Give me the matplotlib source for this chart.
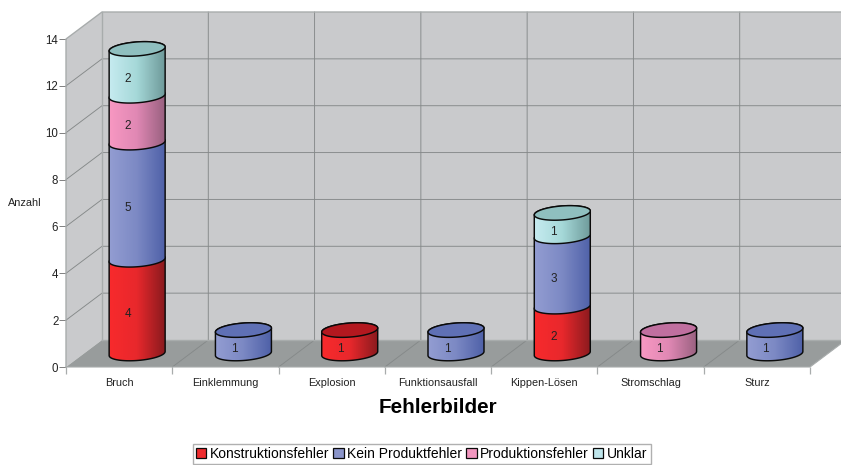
import numpy as np
import matplotlib
matplotlib.use("Agg")
import matplotlib.pyplot as plt
from matplotlib.colors import LinearSegmentedColormap
from matplotlib.patches import Patch, Polygon

plt.rcParams["font.family"] = ["Liberation Sans", "DejaVu Sans"]

categories = ["Bruch", "Einklemmung", "Explosion", "Funktionsausfall",
              "Kippen-Lösen", "Stromschlag", "Sturz"]
series_names = ["Konstruktionsfehler", "Kein Produktfehler", "Produktionsfehler", "Unklar"]
konstruktionsfehler = [4, 0, 1, 0, 2, 0, 0]
kein_produktfehler = [5, 1, 0, 1, 3, 0, 1]
produktionsfehler = [2, 0, 0, 0, 0, 1, 0]
unklar = [2, 0, 0, 0, 1, 0, 0]
y_ticks = [0, 2, 4, 6, 8, 10, 12, 14]

series = [konstruktionsfehler, kein_produktfehler, produktionsfehler, unklar]
legend_cols = ["#ee2b2e", "#8a94c9", "#f296bf", "#bfe6ec"]
grad_cols = [["#f82a2c", "#e8282c", "#8a1a1e"],
             ["#939dd2", "#7c89c4", "#4f61a8"],
             ["#f898c2", "#e088b4", "#996180"],
             ["#c6ebf0", "#a5d8d8", "#6e9a9a"]]
top_cols = ["#b3181f", "#5f70b5", "#c06f9f", "#8fbfbf"]

W, H = 841, 465
L, R, T, B = 66, 810, 39, 367
fig = plt.figure(figsize=(W / 100, H / 100), dpi=100, facecolor="white")
ax = fig.add_axes([L / W, 1 - B / H, (R - L) / W, (B - T) / H])
n = len(categories)
ymax = 14
px_x = (R - L) / n
px_y = (B - T) / ymax
DX, DY = 36 / px_x, 27 / px_y

WALL, FLOOR, GRID, EDGE = "#c9cacc", "#989c9c", "#858989", "#a8acac"

# walls and floor
ax.add_patch(Polygon([(0, 0), (DX, DY), (DX, ymax + DY), (0, ymax)], fc=WALL, ec="none", zorder=1, clip_on=False))
ax.add_patch(Polygon([(DX, DY), (n + DX, DY), (n + DX, ymax + DY), (DX, ymax + DY)], fc=WALL, ec="none", zorder=1, clip_on=False))
ax.add_patch(Polygon([(0, 0), (n, 0), (n + DX, DY), (DX, DY)], fc=FLOOR, ec="none", zorder=1.5, clip_on=False))

# grid
for v in y_ticks[1:-1]:
    ax.plot([0, DX, n + DX], [v, v + DY, v + DY], color=GRID, lw=0.65, zorder=2, clip_on=False)
for i in range(1, n):
    ax.plot([i, i + DX, i + DX], [0, DY, ymax + DY], color=GRID, lw=0.65, zorder=2, clip_on=False)
ax.plot([DX, n + DX], [DY, DY], color=EDGE, lw=1.0, zorder=2, clip_on=False)
ax.plot([DX, DX], [DY, ymax + DY], color=EDGE, lw=1.0, zorder=2, clip_on=False)
ax.plot([0, 0, DX, n + DX], [0, ymax, ymax + DY, ymax + DY], color=EDGE, lw=1.0, zorder=2, clip_on=False)
ax.plot([0, n, n + DX], [0, 0, DY], color=EDGE, lw=0.8, zorder=2, clip_on=False)

# cylinders
a = 28 / px_x
b = 7 / px_y
k = 2 / px_y
tf = np.linspace(np.pi, 2 * np.pi, 60)
tb = np.linspace(0, np.pi, 60)


def ell(cx, cy, t):
    return cx + a * np.cos(t), cy + b * np.sin(t) + k * np.cos(t)


zo = 3.0
for i in range(n):
    cx = i + 0.5 + DX / 2
    base = DY / 2
    cum = 0
    top_idx = max((s for s in range(len(series)) if series[s][i] > 0), default=None)
    for s, vals in enumerate(series):
        v = vals[i]
        if v == 0:
            continue
        y0, y1 = base + cum, base + cum + v
        xf, yf = ell(cx, y0, tf)
        xb, yb = ell(cx, y1, tb)
        pts = np.r_[np.c_[xf, yf], np.c_[xb, yb]]
        body = Polygon(pts, closed=True, fc="none", ec="#0a0a0a", lw=1.05, zorder=zo + 0.2, clip_on=False)
        ax.add_patch(body)
        cmap = LinearSegmentedColormap.from_list("g", grad_cols[s])
        im = ax.imshow(np.linspace(0, 1, 128)[None, :], cmap=cmap, aspect="auto",
                       extent=[cx - a, cx + a, y0 - b - k, y1 + b + k], zorder=zo, interpolation="bilinear")
        clip = Polygon(pts, closed=True, transform=ax.transData)
        im.set_clip_path(clip)
        if s == top_idx:
            xt, yt = ell(cx, y1, np.linspace(0, 2 * np.pi, 120))
            ax.add_patch(Polygon(np.c_[xt, yt], closed=True, fc=top_cols[s], ec="#0a0a0a",
                                 lw=1.05, zorder=zo + 0.3, clip_on=False))
        ax.text(cx - 9 / px_x, (y0 + y1) / 2 - 7 / px_y, str(v), ha="center", va="center",
                fontsize=8.5, color="#222222", zorder=zo + 0.5)
        cum += v
        zo += 1

# axes
ax.set_xlim(0, n)
ax.set_ylim(0, ymax)
for sp in ax.spines.values():
    sp.set_visible(False)
ax.patch.set_visible(False)
ax.set_yticks(y_ticks)
ax.set_yticklabels([str(v) for v in y_ticks], fontsize=8.3, color="#222222")
ax.tick_params(axis="y", length=5, width=0.7, color="#808080", pad=0.5)
ax.set_xticks(np.arange(n) + 0.5)
ax.set_xticklabels(categories, fontsize=7.8, color="#222222")
ax.set_xticks(np.arange(n + 1), minor=True)
ax.tick_params(axis="x", which="major", length=0, pad=8)
ax.tick_params(axis="x", which="minor", length=5, width=0.9, color=EDGE)
ax.set_xlabel("Fehlerbilder", fontsize=14.9, fontweight="bold", labelpad=7, color="black")
ax.set_ylabel("Anzahl", fontsize=7.8, rotation=0, color="#222222", ha="center", va="center")
ax.yaxis.set_label_coords((24.5 - L) / (R - L), (B - 203) / (B - T))

handles = [Patch(fc=c, ec="#0a0a0a", lw=0.9) for c in legend_cols]
fig.legend(handles, series_names, loc="lower left", ncol=4,
           bbox_to_anchor=(193 / W, 1 / H), bbox_transform=fig.transFigure,
           fontsize=10, frameon=True, fancybox=False, edgecolor="#b0b0b0", framealpha=1,
           borderaxespad=0, borderpad=0.22, handlelength=0.75, handleheight=0.75,
           handletextpad=0.25, columnspacing=0.29, labelspacing=0)

fig.savefig("out.png", dpi=100, facecolor="white")
